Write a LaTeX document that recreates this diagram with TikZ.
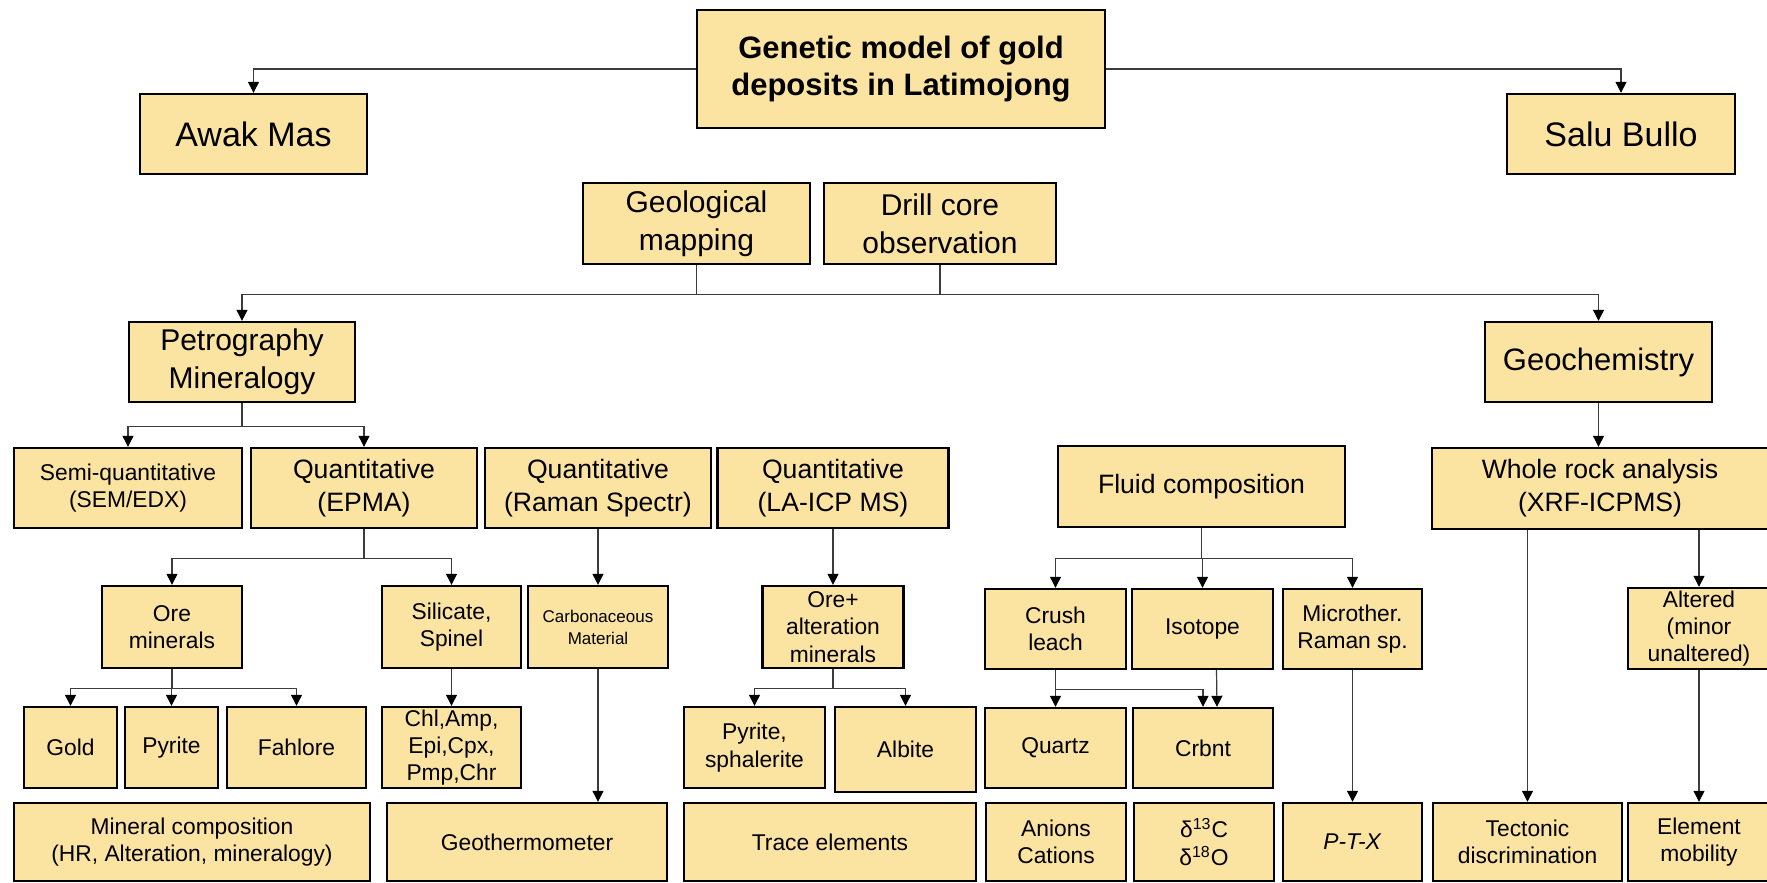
\documentclass[tikz,border=0pt]{standalone}
\usepackage{fontspec}
\setmainfont{Liberation Sans}
\usepackage{xcolor}
\usepackage{tikz}
\usetikzlibrary{arrows.meta}
\definecolor{BoxFill}  {HTML}{FBE3A2}
\definecolor{LinkGray} {HTML}{3C3C3C}
\newcommand{\TitleFont}{\bfseries\fontsize{15.5}{18.5}\selectfont}
\newcommand{\SiteFont}{\fontsize{17}{20}\selectfont}
\newcommand{\MainFont}{\fontsize{15}{19}\selectfont}
\newcommand{\MidFont}{\fontsize{13.3}{16.5}\selectfont}
\newcommand{\SmallFont}{\fontsize{11.4}{13.7}\selectfont}
\newcommand{\TinyFont}{\fontsize{8.5}{11}\selectfont}
\tikzset{
  box/.style={draw=black,line width=1.2pt,fill=BoxFill,align=center,inner sep=0pt},
  link/.style={draw=LinkGray,line width=0.6pt},
  arr/.style={link,-{Triangle[length=5.5pt,width=5.5pt,color=black]}},
}

\begin{document}
\begin{tikzpicture}[x=0.5pt,y=-0.5pt]
    \path[use as bounding box,fill=white] (0,0) rectangle (1767,883);

    % top
    \node[box,font=\TitleFont,minimum width=204pt,minimum height=59pt] (title) at (901,69) {Genetic model of gold\\deposits in Latimojong};
    \node[box,font=\SiteFont,minimum width=113.5pt,minimum height=40pt] (awak) at (253.5,134) {Awak Mas};
    \node[box,font=\SiteFont,minimum width=114pt,minimum height=40pt] (salu) at (1621,134) {Salu Bullo};
    \node[box,font=\MainFont,minimum width=113.5pt,minimum height=40.5pt] (geomap) at (696.5,223.5) {Geological\\mapping};
    \node[box,font=\MainFont,minimum width=116pt,minimum height=40.5pt] (drill) at (940,223.5) {Drill core\\observation};
    \node[box,font=\MainFont,minimum width=113pt,minimum height=40pt] (petro) at (242,362) {Petrography\\Mineralogy};
    \node[box,font=\fontsize{15.5}{19}\selectfont,minimum width=113.5pt,minimum height=40pt] (geochem) at (1598.5,362) {Geochemistry};

    % methods
    \node[box,font=\SmallFont,minimum width=114pt,minimum height=40pt] (semi) at (128,488) {Semi-quantitative\\(SEM/EDX)};
    \node[box,font=\MidFont,minimum width=113pt,minimum height=40pt] (epma) at (364,488) {Quantitative\\(EPMA)};
    \node[box,font=\MidFont,minimum width=113pt,minimum height=40pt] (raman) at (598,488) {Quantitative\\(Raman Spectr)};
    \node[box,font=\MidFont,minimum width=115.5pt,minimum height=40pt] (laicp) at (833,488) {Quantitative\\(LA-ICP MS)};
    \node[box,font=\MidFont,minimum width=143.5pt,minimum height=40.5pt] (fluid) at (1201.5,486.5) {Fluid composition};
    \node[box,font=\MidFont,minimum width=168pt,minimum height=40.5pt] (wholerock) at (1600,488.5) {Whole rock analysis\\(XRF-ICPMS)};

    % third row
    \node[box,font=\SmallFont,minimum width=70pt,minimum height=41pt] (oremin) at (172,627) {Ore\\minerals};
    \node[box,font=\SmallFont,minimum width=69.5pt,minimum height=41pt] (silicate) at (451.5,627) {Silicate,\\Spinel};
    \node[box,font=\TinyFont,minimum width=70pt,minimum height=41pt] (carbon) at (598,627) {Carbonaceous\\Material};
    \node[box,font=\SmallFont,minimum width=70.5pt,minimum height=41pt] (orealt) at (833,627) {Ore+\\alteration\\minerals};
    \node[box,font=\SmallFont,minimum width=70.5pt,minimum height=40pt] (crush) at (1055.5,629) {Crush\\leach};
    \node[box,font=\SmallFont,minimum width=70.5pt,minimum height=40pt] (isotope) at (1202.5,629) {Isotope};
    \node[box,font=\SmallFont,minimum width=69.5pt,minimum height=40pt] (microther) at (1352.5,629) {Microther.\\Raman sp.};
    \node[box,font=\SmallFont,minimum width=71pt,minimum height=40.5pt] (altered) at (1699,628.5) {Altered\\(minor\\unaltered)};

    % fourth row
    \node[box,font=\SmallFont,minimum width=46.5pt,minimum height=40.5pt] (gold) at (70.5,747.5) {Gold};
    \node[box,font=\SmallFont,minimum width=46.5pt,minimum height=40.5pt] (pyrite) at (171.5,747.5) {Pyrite};
    \node[box,font=\SmallFont,minimum width=69.5pt,minimum height=40.5pt] (fahlore) at (296.5,747.5) {Fahlore};
    \node[box,font=\SmallFont,minimum width=69.5pt,minimum height=40.5pt] (chl) at (451.5,747.5) {Chl,Amp,\\Epi,Cpx,\\Pmp,Chr};
    \node[box,font=\SmallFont,minimum width=70.5pt,minimum height=40.5pt] (pyrsph) at (754.5,747.5) {Pyrite,\\sphalerite};
    \node[box,font=\SmallFont,minimum width=70.5pt,minimum height=42.5pt] (albite) at (905.5,749.5) {Albite};
    \node[box,font=\SmallFont,minimum width=70.5pt,minimum height=40pt] (quartz) at (1055.5,748) {Quartz};
    \node[box,font=\SmallFont,minimum width=70pt,minimum height=40pt] (crbnt) at (1203,748) {Crbnt};

    % results
    \node[box,font=\SmallFont,minimum width=178pt,minimum height=39pt] (mincomp) at (192,842) {Mineral composition\\(HR, Alteration, mineralogy)};
    \node[box,font=\SmallFont,minimum width=140pt,minimum height=39pt] (geotherm) at (527,842) {Geothermometer};
    \node[box,font=\SmallFont,minimum width=146pt,minimum height=39pt] (trace) at (830,842) {Trace elements};
    \node[box,font=\SmallFont,minimum width=70pt,minimum height=39pt] (anions) at (1056,842) {Anions\\Cations};
    \node[box,font=\SmallFont,minimum width=70pt,minimum height=39pt] (isodelta) at (1204,842) {δ\textsuperscript{13}C\\δ\textsuperscript{18}O};
    \node[box,font=\SmallFont,minimum width=69.5pt,minimum height=39pt] (ptx) at (1352.5,842) {\textit{P-T-X}};
    \node[box,font=\SmallFont,minimum width=94.5pt,minimum height=39pt] (tecto) at (1527.5,842) {Tectonic\\discrimination};
    \node[box,font=\SmallFont,minimum width=71pt,minimum height=39pt] (elemob) at (1699,842) {Element\\mobility};

    % connectors
    \draw[arr] (title.west) -| (awak.north);
    \draw[arr] (title.east) -| (salu.north);
    \draw[arr] (geomap.south) -- ++(0,29) -| (petro.north);
    \draw[arr] (geomap.south) -- ++(0,29) -| (geochem.north);
    \draw[link] (drill.south) -- ++(0,29);
    \foreach \t in {semi,epma}
      \draw[arr] (petro.south) -- ++(0,23) -| (\t.north);
    \foreach \t in {oremin,silicate}
      \draw[arr] (epma.south) -- ++(0,29) -| (\t.north);
    \foreach \t in {gold,pyrite,fahlore}
      \draw[arr] (oremin.south) -- ++(0,19) -| (\t.north);
    \draw[arr] (silicate) -- (chl);
    \draw[arr] (raman.south) -- (raman.south |- carbon.north);
    \draw[arr] (carbon.south) -- (carbon.south |- geotherm.north);
    \draw[arr] (laicp.south) -- (laicp.south |- orealt.north);
    \foreach \t in {pyrsph,albite}
      \draw[arr] (orealt.south) -- ++(0,19) -| (\t.north);
    \foreach \t in {crush,isotope,microther}
      \draw[arr] (fluid.south) -- ++(0,30) -| (\t.north);
    \draw[arr] (crush) -- (quartz);
    \draw[arr] (crush.south) -- ++(0,19) -| (crbnt.north);
    \draw[arr] ([xshift=7pt]isotope.south) -- ([xshift=7pt]crbnt.north);
    \draw[arr] (microther) -- (ptx);
    \draw[arr] (geochem.south) -- (geochem.south |- wholerock.north);
    \draw[arr] (wholerock.south -| tecto.north) -- (tecto.north);
    \draw[arr] (wholerock.south -| altered.north) -- (altered.north);
    \draw[arr] (altered) -- (elemob);
  \end{tikzpicture}
\end{document}
